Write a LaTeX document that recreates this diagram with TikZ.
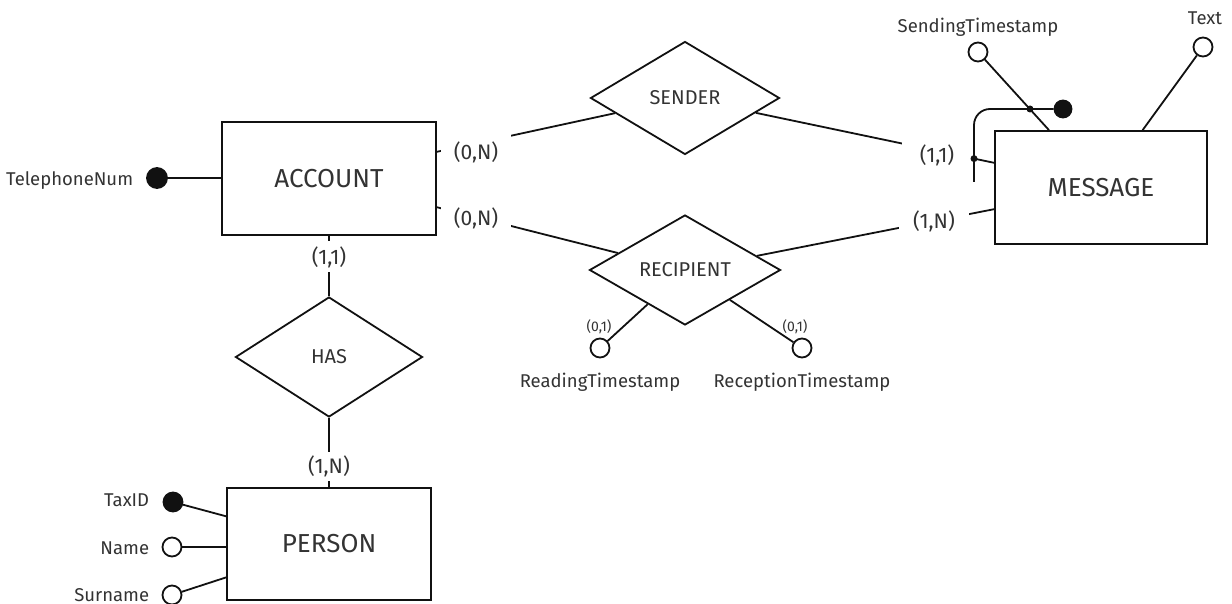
\documentclass[tikz,border=0pt]{standalone}
\usepackage{fontspec}
\setmainfont{Fira Sans}
\usetikzlibrary{shapes.geometric}
\definecolor{txt}{HTML}{333333}
\definecolor{ln}{HTML}{111111}
\begin{document}
\begin{tikzpicture}[x=1pt,y=-1pt, line width=1.8pt, draw=ln,
 entity/.style={draw=ln, inner sep=0, font=\fontsize{26}{30}\selectfont, text=txt, text height=17.9pt, text depth=0pt},
 rel/.style={draw=ln, diamond, inner sep=0, font=\fontsize{20}{24}\selectfont, text=txt, text height=13.8pt, text depth=0pt},
 card/.style={fill=white, minimum width=70, minimum height=31, inner sep=0, font=\fontsize{21}{25}\selectfont, text=txt, text height=14.5pt, text depth=0pt},
 attr/.style={circle, draw=ln, fill=white, minimum size=19, inner sep=0},
 keyattr/.style={circle, draw=ln, fill=ln, minimum size=19, inner sep=0},
 aname/.style={font=\fontsize{18.5}{22}\selectfont, text=txt, inner sep=0, text height=12.7pt, text depth=0pt},
 small/.style={font=\fontsize{14}{16}\selectfont, text=txt, inner sep=0, text height=9.6pt, text depth=0pt},
 dot/.style={circle, fill=ln, minimum size=7, inner sep=0},
]
\useasboundingbox (0,0) rectangle (1232,604);

% entities
\node[entity, minimum width=214, minimum height=113] (account) at (329,178.5) {ACCOUNT};
\node[entity, minimum width=212, minimum height=113] (message) at (1101,187.5) {MESSAGE};
\node[entity, minimum width=204, minimum height=112] (person) at (329,544) {PERSON};

% relationships
\node[rel, minimum width=189, minimum height=113] (sender) at (685,98) {SENDER};
\node[rel, minimum width=191, minimum height=110] (recipient) at (685,270) {RECIPIENT};
\node[rel, minimum width=187, minimum height=120] (has) at (329,357) {HAS};

% connector end points on entity borders
\coordinate (a1) at (436,152);
\coordinate (a2) at (436,207);
\coordinate (m1) at (995,163);
\coordinate (m2) at (995,209);

\draw (a1) -- (sender);
\draw (m1) -- (sender);
\draw (a2) -- (recipient);
\draw (m2) -- (recipient);
\draw (account) -- (has);
\draw (has) -- (person);

% cardinalities
\node[card, minimum height=36] (c1) at (476,152) {(0,N)};
\node[card, minimum height=36] (c2) at (476,218) {(0,N)};
\node[card, minimum height=36] (c3) at (937,155) {(1,1)};
\node[card, minimum height=36] (c4) at (934,221.5) {(1,N)};
\node[card] (c5) at (329,257) {(1,1)};
\node[card, minimum height=29] (c6) at (329,466.5) {(1,N)};

% account attribute
\node[keyattr, minimum size=20] (tel) at (157,178) {};
\node[aname, anchor=east] (teln) at (134,179) {TelephoneNum};
\draw (tel) -- (tel -| account.west);

% person attributes
\node[keyattr] (tax) at (173,502) {};
\node[aname, anchor=east] (taxn) at (150,500) {TaxID};
\draw (tax) -- (person);
\node[attr] (name) at (172,547) {};
\node[aname, anchor=east] (namen) at (150,548) {Name};
\draw (name) -- (name -| person.west);
\node[attr] (surname) at (172,595) {};
\node[aname, anchor=east] (surnamen) at (150,595) {Surname};
\draw (surname) -- (person);

% message attributes
\node[attr] (st) at (978,52) {};
\node[aname] (stn) at (978,26) {SendingTimestamp};
\draw (st) -- (message);
\node[attr] (tx) at (1203,47) {};
\node[aname] (txn) at (1205,18.5) {Text};
\draw (tx) -- (message);

% composite identifier
\node[keyattr, minimum size=17] (mid) at (1063,109) {};
\draw[rounded corners=16pt] (mid) -- (974,109) -- (974,182);
\node[dot] (d1) at (1030,109) {};
\node[dot] (d2) at (974,158.6) {};

% recipient attributes
\node[attr] (rt) at (600,348) {};
\draw (rt) -- (recipient);
\node[small] (rtc) at (599,327) {(0,1)};
\node[aname] (rtn) at (600,381.5) {ReadingTimestamp};
\node[attr] (rc) at (802,348) {};
\draw (rc) -- (recipient);
\node[small] (rcc) at (795,327) {(0,1)};
\node[aname] (rcn) at (802,381.5) {ReceptionTimestamp};
\end{tikzpicture}
\end{document}
